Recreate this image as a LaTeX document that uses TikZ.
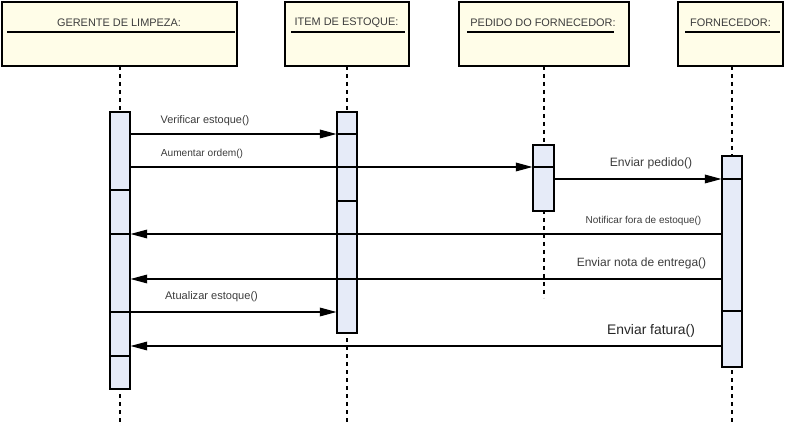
\documentclass[tikz,border=0pt]{standalone}
\usepackage{fontspec}
\setmainfont{Liberation Sans}
\usetikzlibrary{arrows.meta}
\definecolor{boxfill}{RGB}{255,253,232}
\definecolor{actfill}{RGB}{230,235,248}
\definecolor{txt}{RGB}{60,60,60}
\tikzset{
  objbox/.style={draw=black, fill=boxfill, line width=2pt, minimum height=48pt, inner sep=0pt},
  actbox/.style={draw=black, fill=actfill, line width=0.8pt, minimum width=15pt, inner sep=0pt},
  lifeline/.style={draw=black, line width=0.8pt, dash pattern=on 3pt off 3pt},
  divider/.style={draw=black, line width=0.8pt},
  msg/.style={draw=black, line width=0.9pt, -{Triangle[length=12.5pt, width=6.5pt]}},
  hdr/.style={text=txt, font=\fontsize{8.2pt}{9pt}\selectfont, inner sep=0pt},
  lbl/.style={text=txt, inner sep=0pt},
}
\begin{document}
\begin{tikzpicture}[x=0.75pt, y=-0.75pt]
\useasboundingbox (0,0) rectangle (787,423);
% lifelines
\coordinate (l1b) at (120,423);
\coordinate (l2b) at (347,423);
\coordinate (l3b) at (544,298);
\coordinate (l4b) at (732,423);
\coordinate (l1t) at (120,66);
\coordinate (l2t) at (347,66);
\coordinate (l3t) at (544,66);
\coordinate (l4t) at (732,66);
\draw[lifeline] (l1t) -- (l1b);
\draw[lifeline] (l2t) -- (l2b);
\draw[lifeline] (l3t) -- (l3b);
\draw[lifeline] (l4t) -- (l4b);
% activations
\node[actbox, minimum height=207.75pt] (a1) at (120,250.5) {};
\node[actbox, minimum height=165.75pt] (a2) at (347,222.5) {};
\node[actbox, minimum height=49.5pt, minimum width=15.75pt] (a3) at (543.5,178) {};
\node[actbox, minimum height=158.25pt] (a4) at (732,261.5) {};
% message levels
\coordinate (m1) at (0,134);
\coordinate (m2) at (0,167);
\coordinate (m3) at (0,179);
\coordinate (m4) at (0,234);
\coordinate (m5) at (0,279);
\coordinate (m6) at (0,312);
\coordinate (m7) at (0,346);
\coordinate (d1) at (0,190);
\coordinate (d2) at (0,356);
\coordinate (d3) at (0,201);
\coordinate (d4) at (0,311);
% dividers
\draw[divider] (a1.west |- d1) -- (a1.east |- d1);
\draw[divider] (a1.west |- m4) -- (a1.east |- m4);
\draw[divider] (a1.west |- m6) -- (a1.east |- m6);
\draw[divider] (a1.west |- d2) -- (a1.east |- d2);
\draw[divider] (a2.west |- m1) -- (a2.east |- m1);
\draw[divider] (a2.west |- d3) -- (a2.east |- d3);
\draw[divider] (a3.west |- m2) -- (a3.east |- m2);
\draw[divider] (a4.west |- m3) -- (a4.east |- m3);
\draw[divider] (a4.west |- d4) -- (a4.east |- d4);
% messages
\draw[msg] (a1.east |- m1) -- (a2.west |- m1);
\draw[msg] (a1.east |- m2) -- (a3.west |- m2);
\draw[msg] (a3.east |- m3) -- (a4.west |- m3);
\draw[msg] (a4.west |- m4) -- (a1.east |- m4);
\draw[msg] (a4.west |- m5) -- (a1.east |- m5);
\draw[msg] (a1.east |- m6) -- (a2.west |- m6);
\draw[msg] (a4.west |- m7) -- (a1.east |- m7);
% labels
\node[lbl, font=\fontsize{8.2pt}{9pt}\selectfont] (t1) at (205,121) {Verificar estoque()};
\node[lbl, font=\fontsize{7.6pt}{9pt}\selectfont] (t2) at (202,154) {Aumentar ordem()};
\node[lbl, font=\fontsize{9.1pt}{10pt}\selectfont] (t3) at (651,163) {Enviar pedido()};
\node[lbl, font=\fontsize{7.5pt}{9pt}\selectfont] (t4) at (643.5,221) {Notificar fora de estoque()};
\node[lbl, font=\fontsize{9pt}{10pt}\selectfont] (t5) at (641.5,263) {Enviar nota de entrega()};
\node[lbl, font=\fontsize{8.3pt}{9pt}\selectfont] (t6) at (211.5,297) {Atualizar estoque()};
\node[lbl, text=black!85, font=\fontsize{10.4pt}{12pt}\selectfont] (t7) at (651,331) {Enviar fatura()};
% object boxes
\node[objbox, minimum width=176.25pt] (b1) at (119.5,34) {};
\node[objbox, minimum width=93pt] (b2) at (347,34) {};
\node[objbox, minimum width=127.5pt] (b3) at (544,34) {};
\node[objbox, minimum width=78.75pt, line width=1.5pt] (b4) at (730.5,34) {};
\node[hdr] (h1) at (119,23) {GERENTE DE LIMPEZA:};
\node[hdr] (h2) at (346.5,23) {ITEM DE ESTOQUE:};
\node[hdr] (h3) at (543,23) {PEDIDO DO FORNECEDOR:};
\node[hdr] (h4) at (730.5,23) {FORNECEDOR:};
\draw[line width=0.9pt] (7,32) -- (235,32);
\draw[line width=0.9pt] (291,32) -- (405,32);
\draw[line width=0.9pt] (467,32) -- (614,32);
\draw[line width=0.9pt] (685,32) -- (780,32);
\end{tikzpicture}
\end{document}
